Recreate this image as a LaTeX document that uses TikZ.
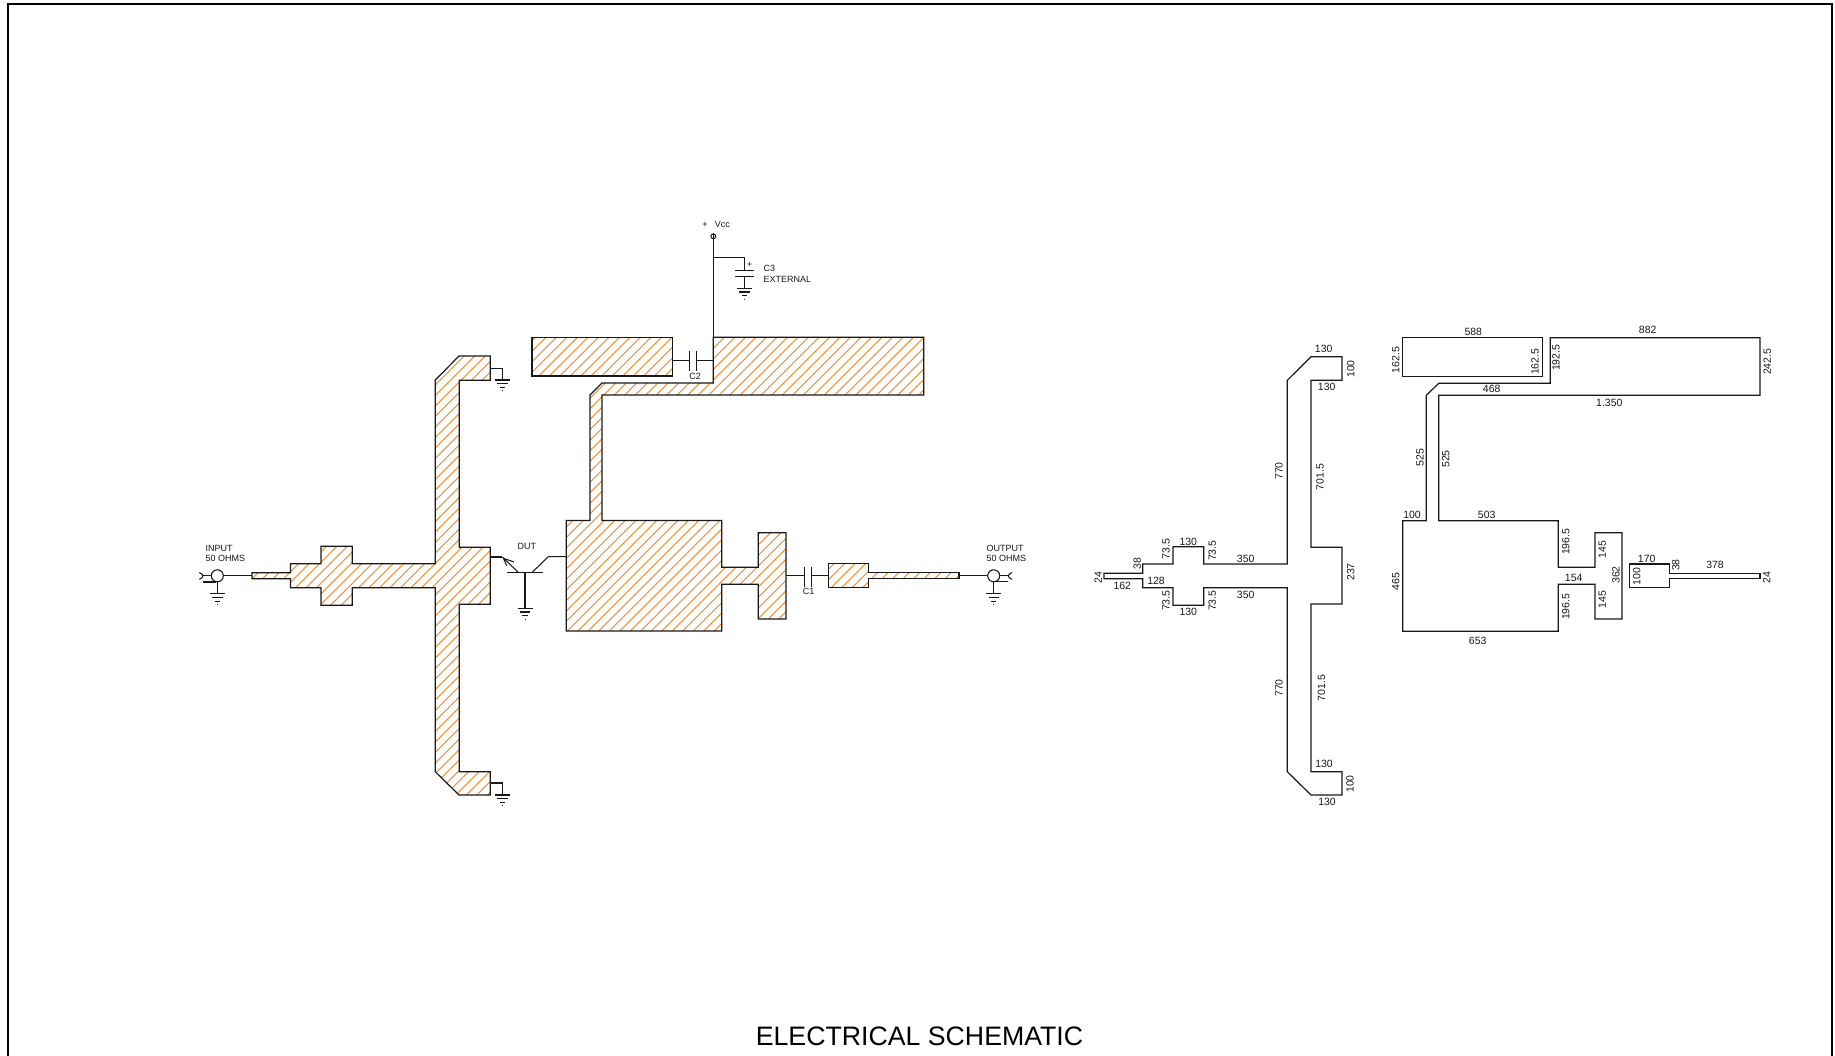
\documentclass[tikz,border=0pt]{standalone}
\usepackage{fontspec}
\setmainfont{Liberation Sans}
\usetikzlibrary{calc}
\definecolor{hatchc}{HTML}{F58220}
\tikzset{
  wire/.style={line width=1.05pt,black!90},
  outline/.style={line width=1.2pt,black!90,line join=miter},
  dim/.style={inner sep=0pt,font=\fontsize{10.5}{11}\selectfont,text=black!90},
  vdim/.style={dim,rotate=90},
  lab/.style={inner sep=0pt,font=\fontsize{9}{9}\selectfont,text=black!90,anchor=west},
  term/.style={circle,draw=black!90,line width=1.1pt,minimum size=12pt,inner sep=0pt},
}
\newcommand{\hatched}[1]{%
  \begin{scope}\clip #1;
    \foreach \k in {28,...,155}{\draw[hatchc,line width=0.85pt] ({1.3+10.5*\k-100},100)--({1.3+10.5*\k-900},900);}
  \end{scope}
  \draw[outline] #1;}
\newcommand{\gnd}[3]{% name, x, y of top bar
  \coordinate (#1) at (#2,#3);
  \draw[wire] ($(#1)+(-7.5,0)$)--($(#1)+(7.5,0)$) ($(#1)+(-5.2,3.7)$)--($(#1)+(5.2,3.7)$) ($(#1)+(-2.6,7.3)$)--($(#1)+(2.6,7.3)$) ($(#1)+(-.5,10.8)$)--($(#1)+(.5,10.8)$);}
\begin{document}
\begin{tikzpicture}[x=1pt,y=-1pt]
\useasboundingbox (0,0) rectangle (1835,1055);
\fill[white] (0,0) rectangle (1835,1055);
% frame
\draw[line width=2pt,black] (8,1060)--(8,4)--(1832,4)--(1832,1060);
% ---------- hatched left circuit
\hatched{(252,572.7)--(290.5,572.7)--(290.5,563.7)--(321,563.7)--(321,546.3)--(352.3,546.3)--(352.3,563.7)--(435.3,563.7)--(435.3,380)--(459,356)--(490.3,356)--(490.3,380.3)--(459.3,380.3)--(459.3,547.3)--(490.3,547.3)--(490.3,604.3)--(459.3,604.3)--(459.3,771.7)--(490.3,771.7)--(490.3,795)--(459,795)--(435.3,771.7)--(435.3,587.7)--(352.3,587.7)--(352.3,605.3)--(321,605.3)--(321,587.7)--(290.5,587.7)--(290.5,578.7)--(252,578.7)--cycle}
\hatched{(532,337.3)--(672.3,337.3)--(672.3,376)--(532,376)--cycle}
\hatched{(713.3,337.3)--(923.7,337.3)--(923.7,395)--(602,395)--(602,520.5)--(721.7,520.5)--(721.7,567.3)--(758.3,567.3)--(758.3,532.7)--(786,532.7)--(786,619)--(758.3,619)--(758.3,584.3)--(721.7,584.3)--(721.7,631)--(566.3,631)--(566.3,520.5)--(590,520.5)--(590,395)--(602,383)--(713.3,383)--cycle}
\hatched{(828.3,563.7)--(868.7,563.7)--(868.7,572.7)--(959,572.7)--(959,578.7)--(868.7,578.7)--(868.7,587.7)--(828.3,587.7)--cycle}
% ---------- input
\node[term] (inC) at (217.3,575.8) {};
\coordinate (inS) at (252,575.8);
\draw[wire] (inC)--(inS);
\draw[wire] (199.3,572.5) .. controls (202,573.5) and (202.8,575) .. (202.8,575.8) .. controls (202.8,577) and (202,578.5) .. (199.3,579.3);
\draw[wire] (202.8,575.8)--(inC.west) (203.3,582)--(216,582);
\draw[wire] (inC.south)--(217.3,593.8);
\gnd{g1}{217.3}{593.8}
\node[lab] (tInput) at (205.3,548.3) {INPUT};
\node[lab] (tOhm1) at (205.3,558.3) {50 OHMS};
% ---------- output
\node[term] (outC) at (993.7,575.8) {};
\coordinate (outS) at (959,575.8);
\draw[wire] (outS)--(outC);
\draw[wire] (1012,572.5) .. controls (1009.3,573.5) and (1008.4,575) .. (1008.4,575.8) .. controls (1008.4,577) and (1009.3,578.5) .. (1012,579.3);
\draw[wire] (outC.east)--(1008.4,575.8) (995,581.8)--(1008.4,581.8);
\draw[wire] (outC.south)--(993.7,593.8);
\gnd{g2}{993.7}{593.8}
\node[lab] (tOutput) at (986.5,548.3) {OUTPUT};
\node[lab] (tOhm2) at (986.5,558.3) {50 OHMS};
% ---------- stubs grounds
\draw[wire] (490.3,368.3)-|(502.3,380);
\gnd{g3}{502.3}{380}
\draw[wire] (490.3,783)-|(502.3,795);
\gnd{g4}{502.3}{795}
% ---------- transistor
\coordinate (base) at (525,572.3);
\draw[wire] (490.3,557)--(502.3,557);
\draw[wire] (502.3,557)--(518.3,572.3);
\draw[wire] (503.5,558.3)--(514,562) (503.5,558.3)--(506.7,565.7);
\draw[wire] (507.3,572.3)--(542.7,572.3);
\draw[wire] (532.3,572.3)--(548.3,556.7)--(566.3,556.7);
\draw[wire] (base)--(525,608.3);
\gnd{g5}{525}{608.3}
\node[lab] (tDut) at (517.5,546.7) {DUT};
% ---------- C1
\coordinate (c1a) at (804.7,575.8);
\coordinate (c1b) at (811.3,575.8);
\draw[wire] (786,575.8)--(c1a) (c1b)--(828.3,575.8);
\draw[wire] (804.7,566.5)--(804.7,586.5) (811.3,566.5)--(811.3,586.5);
\node[lab,anchor=center] (tC1) at (808.7,591.8) {C1};
% ---------- C2
\coordinate (c2a) at (689.3,360.3);
\coordinate (c2b) at (696.7,360.3);
\draw[wire] (672.3,360.3)--(c2a) (c2b)--(713.3,360.3);
\draw[wire] (689.3,350.7)--(689.3,370.7) (696.7,350.7)--(696.7,370.7);
\node[lab,anchor=center] (tC2) at (695,376.5) {C2};
% ---------- Vcc, C3
\node[circle,draw=black!90,line width=1pt,minimum size=4.8pt,inner sep=0pt] (vcc) at (713.3,236.3) {};
\draw[wire] (vcc.north)--(713.3,337.3);
\draw[wire] (713.3,257.7)-|(744.3,270.7);
\draw[wire] (735,270.7)--(754,270.7) (735,276.7)--(754,276.7) (744.3,276.7)--(744.3,288.3);
\gnd{g6}{744.3}{288.3}
\node[lab,anchor=center] (tPlus3) at (749.7,265) {+};
\node[lab] (tC3) at (763.3,268.7) {C3};
\node[lab] (tExt) at (763.3,279.3) {EXTERNAL};
\node[lab,anchor=center] (tPlus) at (705,224.7) {+};
\node[lab] (tVcc) at (714.7,224.7) {Vcc};
% ---------- layout 1
\draw[outline] (1104,573.3)--(1142.7,573.3)--(1142.7,564)--(1173,564)--(1173,546.7)--(1203.7,546.7)--(1203.7,564)--(1287.3,564)--(1287.3,380.3)--(1311,356.7)--(1342,356.7)--(1342,380.3)--(1311,380.3)--(1311,547.3)--(1342,547.3)--(1342,604)--(1311,604)--(1311,771.7)--(1342,771.7)--(1342,795)--(1311,795)--(1287.3,771.7)--(1287.3,587.7)--(1203.7,587.7)--(1203.7,605.3)--(1173,605.3)--(1173,587.7)--(1142.7,587.7)--(1142.7,578.7)--(1104,578.7)--cycle;
\node[dim] at (1323.7,349.3) {130};
\node[dim] at (1326.7,387.3) {130};
\node[vdim] at (1350.7,369) {100};
\node[vdim] at (1279,471) {770};
\node[vdim] at (1320,477) {701.5};
\node[vdim] at (1350.7,572) {237};
\node[vdim] at (1166,549) {73.5};
\node[vdim] at (1212.3,550.7) {73.5};
\node[dim] at (1188.3,542) {130};
\node[dim] at (1245.7,559) {350};
\node[vdim] at (1137.3,563.3) {38};
\node[vdim] at (1098.3,577.3) {24};
\node[dim] at (1122.3,586) {162};
\node[dim] at (1156,581.3) {128};
\node[dim] at (1245.7,594.7) {350};
\node[vdim] at (1166,600.7) {73.5};
\node[vdim] at (1212.3,600.7) {73.5};
\node[dim] at (1188.3,612) {130};
\node[vdim] at (1350,784) {100};
\node[dim] at (1324,764) {130};
\node[dim] at (1327,801.7) {130};
\node[vdim] at (1279,688) {770};
\node[vdim] at (1321.5,688) {701.5};
% ---------- layout 2
\draw[outline] (1402.7,337.7)--(1542.7,337.7)--(1542.7,376.3)--(1402.7,376.3)--cycle;
\draw[outline] (1550.3,337.7)--(1760,337.7)--(1760,395.3)--(1438.7,395.3)--(1438.7,520.7)--(1558.3,520.7)--(1558.3,567.3)--(1595,567.3)--(1595,532.7)--(1622,532.7)--(1622,619)--(1595,619)--(1595,584.3)--(1558.3,584.3)--(1558.3,631.3)--(1402.7,631.3)--(1402.7,520.7)--(1426.3,520.7)--(1426.3,395.3)--(1438.7,383.3)--(1550.3,383.3)--cycle;
\draw[outline] (1629.3,564)--(1669.7,564)--(1669.7,573.3)--(1760,573.3)--(1760,578.3)--(1669.7,578.3)--(1669.7,587.7)--(1629.3,587.7)--cycle;
\node[dim] at (1473.3,332.3) {588};
\node[dim] at (1647.7,330) {882};
\node[vdim] at (1395.7,360) {162.5};
\node[vdim] at (1535,361.7) {162.5};
\node[vdim] at (1556,357.7) {192.5};
\node[vdim] at (1767.3,361.7) {242.5};
\node[dim] at (1491.7,389) {468};
\node[dim] at (1609.3,402.7) {1.350};
\node[vdim] at (1420,457.7) {525};
\node[vdim] at (1445.7,459) {525};
\node[dim] at (1412,515) {100};
\node[dim] at (1486.7,515) {503};
\node[vdim] at (1565.7,541.7) {196.5};
\node[vdim] at (1602.3,549.3) {145};
\node[dim] at (1573.7,577.7) {154};
\node[vdim] at (1616,575) {362};
\node[vdim] at (1565.7,606.7) {196.5};
\node[vdim] at (1602.3,599.3) {145};
\node[vdim] at (1395.7,581.7) {465};
\node[dim] at (1477.7,640.7) {653};
\node[dim] at (1646.7,558.7) {170};
\node[vdim] at (1636.7,576.7) {100};
\node[vdim] at (1675.7,565) {38};
\node[dim] at (1715,565) {378};
\node[vdim] at (1766.7,577.7) {24};
% ---------- title
\node[inner sep=0pt,font=\fontsize{26.7}{28}\selectfont] (title) at (919.5,1036) {ELECTRICAL SCHEMATIC};
\end{tikzpicture}
\end{document}
